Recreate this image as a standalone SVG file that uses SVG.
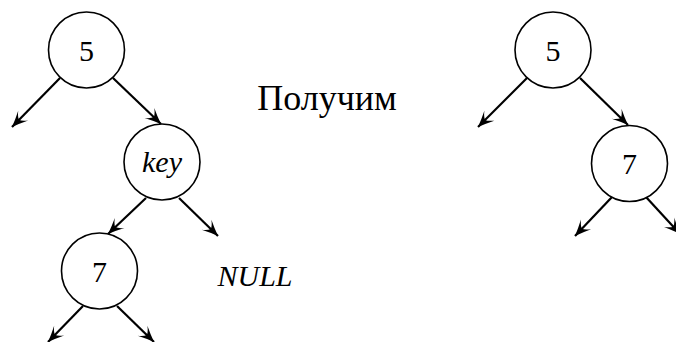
<svg xmlns="http://www.w3.org/2000/svg" width="676" height="342" viewBox="0 0 676 342">
<style>
.node circle{fill:#fff;stroke:#000;stroke-width:1.6}
.lbl{font-size:30px;fill:#000;text-anchor:middle}
.edge{stroke:#000;stroke-width:2.2;fill:none;marker-end:url(#ah)}
</style>
<defs>
<marker id="ah" viewBox="-17 -8 19 16" refX="0" refY="0" markerWidth="19" markerHeight="16" markerUnits="userSpaceOnUse" orient="auto">
<path d="M0,0 Q-8,-3 -16,-7 Q-11,-3 -10,0 Q-11,3 -16,7 Q-8,3 0,0 Z" fill="#000"/>
</marker>
</defs>
<g id="connectors">
<line class="edge" x1="60" y1="78" x2="12" y2="127"/>
<line class="edge" x1="113" y1="78" x2="161" y2="124"/>
<line class="edge" x1="146" y1="198" x2="108" y2="234"/>
<line class="edge" x1="179" y1="198" x2="218" y2="236"/>
<line class="edge" x1="83" y1="306" x2="48" y2="342"/>
<line class="edge" x1="117" y1="306" x2="154" y2="342"/>
<line class="edge" x1="527" y1="78" x2="478" y2="127"/>
<line class="edge" x1="580" y1="78" x2="628" y2="125"/>
<line class="edge" x1="612" y1="197" x2="575" y2="236"/>
<line class="edge" x1="646" y1="197" x2="680" y2="234"/>
</g>
<g id="n5a" class="node"><circle cx="86.5" cy="50" r="38"/><text class="lbl" font-family="Liberation Serif" x="86.5" y="61">5</text></g>
<g id="nkey" class="node"><circle cx="162" cy="162" r="38"/><text class="lbl" font-family="Liberation Serif" font-style="italic" x="162" y="172">key</text></g>
<g id="n7a" class="node"><circle cx="99.5" cy="271" r="38"/><text class="lbl" font-family="Liberation Serif" x="99.5" y="282">7</text></g>
<g id="n5b" class="node"><circle cx="553" cy="50" r="38"/><text class="lbl" font-family="Liberation Serif" x="553" y="61">5</text></g>
<g id="n7b" class="node"><circle cx="629.5" cy="163.5" r="38"/><text class="lbl" font-family="Liberation Serif" x="629.5" y="174">7</text></g>
<text class="lbl" font-family="Liberation Serif" font-style="italic" x="255" y="286">NULL</text>
<text class="lbl" font-family="Liberation Serif" x="327" y="110" style="font-size:36px">Получим</text>
</svg>
